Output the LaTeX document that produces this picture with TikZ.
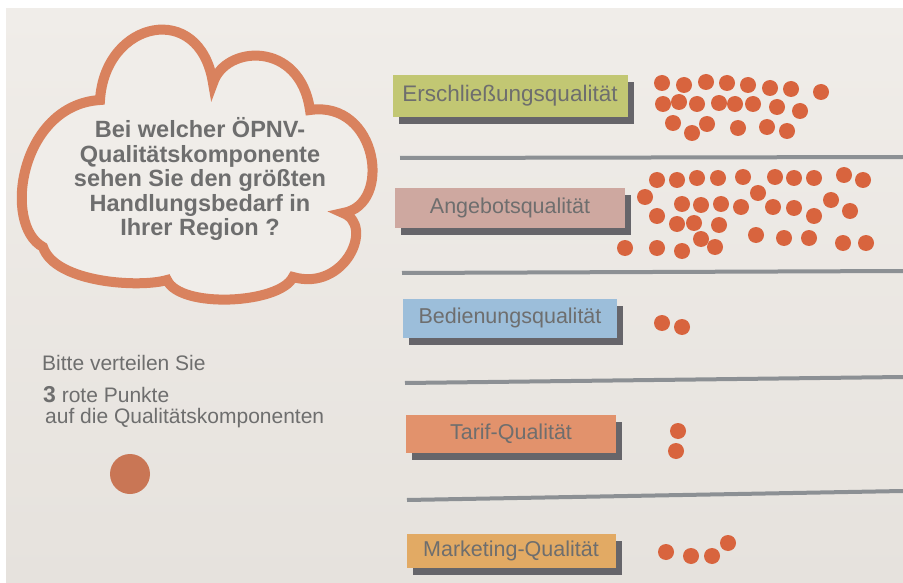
\documentclass[tikz,border=0pt]{standalone}
\usepackage{fontspec}
\setmainfont{Liberation Sans}
\usetikzlibrary{shadows}

\definecolor{paper}{HTML}{ECE8E3}
\definecolor{papertop}{HTML}{F0EDE9}
\definecolor{paperbottom}{HTML}{E6E2DD}
\definecolor{cloudline}{HTML}{D9825E}
\definecolor{dotred}{HTML}{D8643E}
\definecolor{bigdot}{HTML}{C97655}
\definecolor{textgray}{HTML}{6E6E6E}
\definecolor{rulegray}{HTML}{8C9094}
\definecolor{shadowgray}{HTML}{66656A}
\definecolor{erschl}{HTML}{C2C773}
\definecolor{angebot}{HTML}{CEA8A0}
\definecolor{bedien}{HTML}{9CBEDA}
\definecolor{tarif}{HTML}{E2926C}
\definecolor{marketing}{HTML}{E2AA64}

\begin{document}
\begin{tikzpicture}[x=1pt, y=-1pt,
    labelbox/.style={fill=#1, text=textgray, font=\fontsize{21.5}{25}\selectfont,
        inner sep=0pt, minimum height=40pt,
        general shadow={fill=shadowgray, shadow xshift=6pt, shadow yshift=-7pt}},
    hint/.style={anchor=base west, inner sep=0pt, text=textgray, font=\fontsize{21}{25}\selectfont}]
\useasboundingbox (0,0) rectangle (903,583);
% Draw paper
\fill[white] (0,0) rectangle (903,583);
\shade[top color=papertop, bottom color=paperbottom] (6,9) rectangle (903,583);
% Draw cloud
\draw[cloudline, line width=10pt, fill=papertop]
    (100,100) .. controls (105,20) and (200,0) .. (213,83)
    .. controls (225,45) and (300,40) .. (310,110)
    .. controls (378,100) and (393,205) .. (343,213)
    .. controls (375,225) and (345,292) .. (293,277)
    .. controls (280,304) and (180,309) .. (167,280)
    .. controls (140,288) and (55,283) .. (43,247)
    .. controls (2,225) and (20,105) .. (100,100) -- cycle;
\node[align=center, text=textgray, font=\bfseries\fontsize{23.5}{24.5}\selectfont] (question) at (200,179)
    {Bei welcher ÖPNV-\\Qualitätskomponente\\sehen Sie den größten\\Handlungsbedarf in\\Ihrer Region ?};
% Draw instructions
\node[hint] (bitte) at (42,370) {Bitte verteilen Sie};
\node[hint] (punkte) at (43,402) {{\bfseries\fontsize{23}{25}\selectfont 3} rote Punkte};
\node[hint] (auf) at (45,423) {auf die Qualitätskomponenten};
\fill[bigdot] (130,474) circle (20pt);
% Draw separator lines
\draw[rulegray, line width=4pt] (400,158) -- (903,157);
\draw[rulegray, line width=4pt] (402,273) -- (903,271);
\draw[rulegray, line width=4pt] (405,383) -- (903,377);
\draw[rulegray, line width=4pt] (407,500) -- (903,491);
% Draw labels
\node[labelbox=erschl, minimum width=235pt, minimum height=42pt, font=\fontsize{22.5}{25}\selectfont] (erschliessung) at (510,96) {Erschließungsqualität};
\node[labelbox=angebot, minimum width=230pt] (angebotsq) at (510,208) {Angebotsqualität};
\node[labelbox=bedien, minimum width=214pt, minimum height=39pt] (bedienung) at (510,318) {Bedienungsqualität};
\node[labelbox=tarif, minimum width=210pt, minimum height=38pt] (tarifq) at (511,434) {Tarif-Qualität};
\node[labelbox=marketing, minimum width=209pt, minimum height=34pt] (marketingq) at (511,551) {Marketing-Qualität};
% Draw votes
\foreach \p in {(662,83),(684,85),(706,82),(727,83),(748,85),(770,88),(791,89),(821,92),
                (663,104),(679,102),(697,104),(719,103),(735,104),(753,104),(777,107),(800,111),
                (673,123),(692,133),(707,124),(738,128),(767,127),(787,131)}
    \fill[dotred] \p circle (8pt);
\foreach \p in {(657,180),(677,180),(697,178),(718,178),(743,177),(775,177),(794,178),(814,178),(844,175),(863,180),
                (645,197),(758,193),(831,200),(682,204),(701,205),(721,204),(741,207),(773,207),(794,208),(850,211),
                (657,216),(677,224),(694,223),(719,225),(814,216),
                (625,248),(657,248),(682,251),(701,239),(715,247),(756,235),(784,238),(809,238),(843,243),(866,243)}
    \fill[dotred] \p circle (8pt);
\foreach \p in {(662,323),(682,327),(678,431),(676,451),(666,552),(691,556),(712,556),(728,543)}
    \fill[dotred] \p circle (8pt);
\end{tikzpicture}
\end{document}
